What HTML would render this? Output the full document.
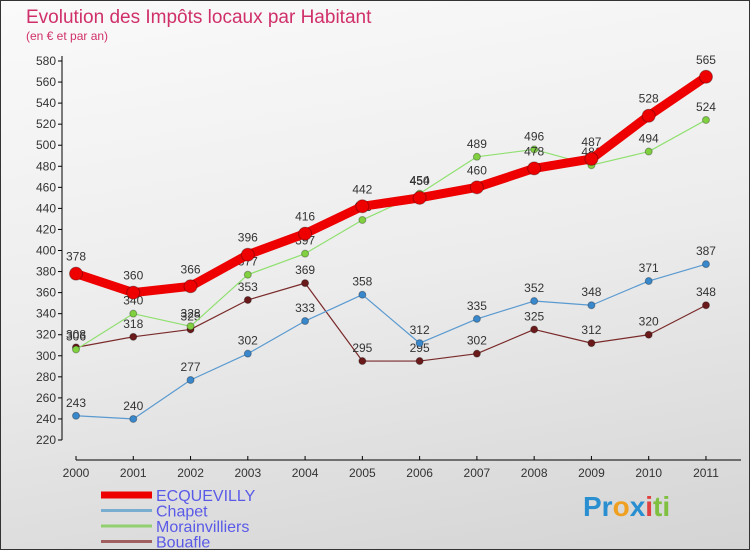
<!DOCTYPE html>
<html><head><meta charset="utf-8"><style>
body{margin:0;width:750px;height:550px;overflow:hidden;font-family:"Liberation Sans",sans-serif}
#wrap{position:relative;width:748px;height:548px;border:1px solid #333;background:linear-gradient(170deg,#fafafa 0%,#ececec 50%,#d4d4d4 100%)}
</style></head><body>
<div id="wrap">
<svg id="chart" width="748" height="548" style="position:absolute;left:0;top:0">
<text x="25" y="22" font-size="19" fill="#d0306a">Evolution des Impôts locaux par Habitant</text>
<text x="25" y="39" font-size="12" fill="#d0306a">(en € et par an)</text>
<g id="axes"></g><g id="series"></g><g id="legend"></g>
<text x="582" y="515" font-size="28" font-weight="bold"><tspan fill="#2a8fd0">Pr</tspan><tspan fill="#f0a020">o</tspan><tspan fill="#2a8fd0">x</tspan><tspan fill="#e04040">i</tspan><tspan fill="#80c040">ti</tspan></text>
</svg>
</div>
<script>
const years=[2000,2001,2002,2003,2004,2005,2006,2007,2008,2009,2010,2011];
const yTicks=[220,240,260,280,300,320,340,360,380,400,420,440,460,480,500,520,540,560,580];
const ecquevilly=[378,360,366,396,416,442,450,460,478,487,528,565];
const chapet=[243,240,277,302,333,358,312,335,352,348,371,387];
const morainvilliers=[306,340,328,377,397,429,454,489,496,481,494,524];
const bouafle=[308,318,325,353,369,295,295,302,325,312,320,348];
const NS='http://www.w3.org/2000/svg';
const xs=i=>75+i*57.27;
const ys=v=>439-(v-220)*(379/360);
function mk(p,t,a){const e=document.createElementNS(NS,t);for(const k in a)e.setAttribute(k,a[k]);p.appendChild(e);return e;}
const ax=document.getElementById('axes');
let yl=mk(ax,'line',{x1:61,y1:ys(580)-5,x2:61,y2:ys(220),stroke:'#000'});


yTicks.forEach(v=>{
 mk(ax,'line',{x1:57,y1:ys(v),x2:61,y2:ys(v),stroke:'#000'});
 const t=mk(ax,'text',{x:55,y:ys(v)+4,'text-anchor':'end','font-size':12,fill:'#333'});
 t.textContent=v;
 
 
});
let xl=mk(ax,'line',{x1:75,y1:459,x2:740,y2:459,stroke:'#000'});


years.forEach((y,i)=>{
 mk(ax,'line',{x1:xs(i),y1:455,x2:xs(i),y2:459,stroke:'#000'});
 const t=mk(ax,'text',{x:xs(i),y:476,'text-anchor':'middle','font-size':12,fill:'#333'});
 t.textContent=y;
 
 
});
const sg=document.getElementById('series');
function series(data,name,color,dot,w,r,lab){
 const g=mk(sg,'g',{});
 
 
 const pl=mk(g,'polyline',{points:data.map((v,i)=>xs(i)+','+ys(v)).join(' '),fill:'none',stroke:color,'stroke-width':w,'stroke-linejoin':'round'});
 
 
 data.forEach((v,i)=>{
  const c=mk(g,'circle',{cx:xs(i),cy:ys(v),r:r,fill:dot,stroke:'rgba(0,0,0,0.3)'});
  
  
  const t=mk(g,'text',{x:xs(i),y:ys(v)-lab,'text-anchor':'middle','font-size':12,fill:'#333'});
  t.textContent=v;
  
  
 });
}
series(bouafle,'bouafle','#7a2a2a','#6a1a1a',1.2,3.5,9);
series(chapet,'chapet','#5a9ad0','#3a88cc',1.2,3.5,9);
series(morainvilliers,'morainvilliers','#90e070','#80d040',1.2,3.5,9);
series(ecquevilly,'ecquevilly','#ee0000','#ee0000',9,6.5,13);
const lg=document.getElementById('legend');
const items=[['ECQUEVILLY','#ee0000',7],['Chapet','#7aaed0',3],['Morainvilliers','#90d070',3],['Bouafle','#a06060',3]];
items.forEach((it,i)=>{
 const y=494+i*15.5;
 const g=mk(lg,'g',{});
 
 
 mk(g,'line',{x1:100,y1:y,x2:151,y2:y,stroke:it[1],'stroke-width':it[2]});
 const t=mk(g,'text',{x:155,y:y+6,'font-size':16,fill:'#5a5ae8'});
 t.textContent=it[0];
});
</script>
</body></html>
